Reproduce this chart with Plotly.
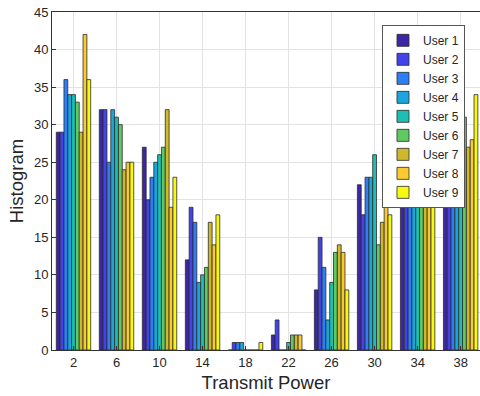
import plotly.graph_objects as go

categories = [2, 6, 10, 14, 18, 22, 26, 30, 34, 38]
user_names = ["User 1", "User 2", "User 3", "User 4", "User 5",
              "User 6", "User 7", "User 8", "User 9"]

user1 = [29, 32, 27, 12, 0, 2, 8, 22, 28, 30]
user2 = [29, 32, 20, 19, 1, 4, 15, 18, 30, 32]
user3 = [36, 25, 23, 17, 1, 0, 11, 23, 27, 29]
user4 = [34, 32, 25, 9, 1, 0, 4, 23, 29, 28]
user5 = [34, 31, 26, 10, 0, 1, 9, 26, 26, 30]
user6 = [33, 30, 27, 11, 0, 2, 13, 14, 28, 31]
user7 = [29, 24, 32, 17, 0, 2, 14, 17, 30, 27]
user8 = [42, 25, 19, 14, 0, 2, 13, 27, 31, 28]
user9 = [36, 25, 23, 18, 1, 0, 8, 18, 29, 34]

series = [user1, user2, user3, user4, user5, user6, user7, user8, user9]
colors = ["#3d27a6", "#4244e9", "#2e7ff6", "#1ba5dc", "#1cbfb2",
          "#60c964", "#cfb92b", "#fbca31", "#f7f910"]

fig = go.Figure()
for name, vals, col in zip(user_names, series, colors):
    fig.add_trace(go.Bar(
        x=categories, y=vals, name=name,
        marker=dict(color=col, line=dict(color="#2b2b2b", width=0.8)),
    ))

axis_font = dict(family="Liberation Sans, Arial, sans-serif", size=13, color="#262626")

fig.update_layout(
    width=480, height=396,
    margin=dict(l=52, r=0, t=12, b=46),
    paper_bgcolor="white", plot_bgcolor="white",
    barmode="group", bargap=0.2, bargroupgap=0,
    font=axis_font,
    showlegend=True,
    legend=dict(
        x=0.771, y=0.962, xanchor="left", yanchor="top",
        bgcolor="white", bordercolor="#555555", borderwidth=1,
        font=dict(family="Liberation Sans, Arial, sans-serif", size=12, color="#262626"),
        tracegroupgap=0, itemwidth=30,
    ),
    xaxis=dict(
        range=[0, 39.8], tickmode="array", tickvals=categories,
        ticktext=[str(c) for c in categories],
        showgrid=True, gridcolor="#e3e3e3", gridwidth=1,
        showline=True, linecolor="#333333", linewidth=1, mirror=True,
        ticks="inside", ticklen=4, tickcolor="#333333",
        title=dict(text="Transmit Power", font=dict(size=18.5, color="#262626"), standoff=7),
        zeroline=False,
    ),
    yaxis=dict(
        range=[0, 45], tickmode="array", tickvals=list(range(0, 46, 5)),
        showgrid=True, gridcolor="#e3e3e3", gridwidth=1,
        showline=True, linecolor="#333333", linewidth=1, mirror=True,
        ticks="inside", ticklen=4, tickcolor="#333333",
        title=dict(text="Histogram", font=dict(size=18.5, color="#262626"), standoff=5),
        zeroline=False,
    ),
)

fig.write_html("out.html", config={"displayModeBar": False},
               post_script="document.body.style.margin='0';document.body.style.overflow='hidden';")
